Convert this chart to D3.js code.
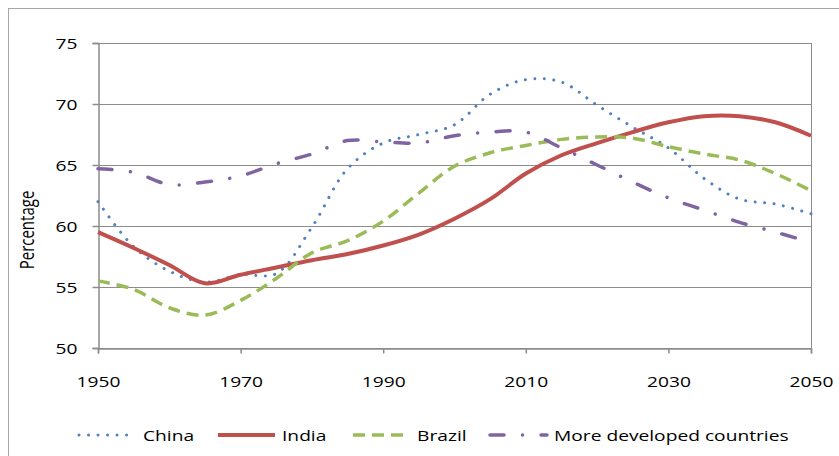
<!DOCTYPE html>
<html>
<head>
<meta charset="utf-8">
<script src="https://cdn.jsdelivr.net/npm/d3@7"></script>
<style>
  html, body { margin: 0; padding: 0; background: #fff; }
  svg text { font-family: "Open Sans", sans-serif; fill: #000; }
</style>
</head>
<body>
<div id="chart"></div>
<script>
// data (5-year steps)
var years = [1950, 1955, 1960, 1965, 1970, 1975, 1980, 1985, 1990, 1995, 2000,
             2005, 2010, 2015, 2020, 2025, 2030, 2035, 2040, 2045, 2050];
var china = [62.0, 58.3, 56.3, 55.4, 56.0, 56.1, 59.9, 64.7, 66.8, 67.5, 68.3,
             70.8, 72.0, 71.8, 69.9, 68.1, 66.4, 63.9, 62.2, 61.8, 61.0];
var india = [59.5, 58.2, 56.8, 55.3, 56.0, 56.6, 57.2, 57.7, 58.4, 59.3, 60.6,
             62.2, 64.3, 65.8, 66.8, 67.7, 68.5, 69.0, 69.0, 68.5, 67.4];
var brazil = [55.5, 54.8, 53.3, 52.7, 53.9, 55.7, 57.8, 58.8, 60.4, 62.7, 64.9,
              66.0, 66.6, 67.1, 67.3, 67.2, 66.5, 65.9, 65.4, 64.3, 62.9];
var mdcYears = [1950, 1955, 1960, 1965, 1970, 1975, 1980, 1985, 1990, 1995, 2000,
                2005, 2010, 2015, 2020, 2025, 2030, 2035, 2040, 2045, 2048];
var mdc = [64.7, 64.4, 63.4, 63.6, 64.1, 65.1, 65.9, 67.0, 66.9, 66.8, 67.4,
           67.7, 67.7, 66.4, 65.0, 63.6, 62.3, 61.3, 60.3, 59.5, 59.0];
var xTicks = [1950, 1970, 1990, 2010, 2030, 2050];
var yTicks = [50, 55, 60, 65, 70, 75];

var W = 839, H = 456;
var margin = {top: 43, right: 28, bottom: 108, left: 98};
var sx = 1.28; // the picture is stretched sideways

var svg = d3.select("#chart").append("svg")
    .attr("width", W).attr("height", H);

// outer chart border
svg.append("rect")
    .attr("x", 8.5).attr("y", 8.5)
    .attr("width", W).attr("height", H)
    .attr("fill", "none").attr("stroke", "#a6a6a6");

var x = d3.scaleLinear().domain([1950, 2050]).range([margin.left, W - margin.right]);
var y = d3.scaleLinear().domain([50, 75]).range([H - margin.bottom, margin.top]);

// gridlines
svg.append("g").selectAll("line").data(yTicks).join("line")
    .attr("x1", x(1950)).attr("x2", x(2050))
    .attr("y1", d => Math.round(y(d)) + 0.5).attr("y2", d => Math.round(y(d)) + 0.5)
    .attr("stroke", "#8c8c8c");
svg.append("line")
    .attr("x1", Math.round(x(2050)) + 0.5).attr("x2", Math.round(x(2050)) + 0.5)
    .attr("y1", y(75)).attr("y2", y(50))
    .attr("stroke", "#8c8c8c");

// y axis
var yAxis = svg.append("g")
    .attr("transform", "translate(" + (Math.round(x(1950)) + 0.5) + ",0)")
    .call(d3.axisLeft(y).tickValues(yTicks).tickSize(6).tickPadding(0).tickFormat(d3.format("d")));
yAxis.select(".domain").attr("stroke", "#8c8c8c").attr("stroke-width", 1.5);
yAxis.selectAll(".tick line").attr("stroke", "#8c8c8c").attr("stroke-width", 1.5);
yAxis.selectAll(".tick text")
    .attr("x", null).attr("dy", null)
    .attr("font-size", 15)
    .attr("text-anchor", "end")
    .attr("transform", "translate(-21,5.5) scale(" + sx + ",1)");

// x axis
var xAxis = svg.append("g")
    .attr("transform", "translate(0," + (Math.round(y(50)) + 0.5) + ")")
    .call(d3.axisBottom(x).tickValues(xTicks).tickSize(5).tickFormat(d3.format("d")));
xAxis.select(".domain").attr("stroke", "#8c8c8c").attr("stroke-width", 1.5);
xAxis.selectAll(".tick line").attr("stroke", "#8c8c8c").attr("stroke-width", 1.5);
xAxis.selectAll(".tick text")
    .attr("y", null).attr("dy", null)
    .attr("font-size", 15)
    .attr("text-anchor", "middle")
    .attr("transform", "translate(0,38.5) scale(" + sx + ",1)");

// y axis title
svg.append("text")
    .attr("transform", "translate(34,230) rotate(-90) scale(1," + sx + ")")
    .attr("text-anchor", "middle")
    .attr("font-size", 15)
    .text("Percentage");

var series = [
    {name: "China", xs: years, vs: china, color: "#4F81BD", width: 3, dash: "0.01 9.5", cap: "round"},
    {name: "India", xs: years, vs: india, color: "#C0504D", width: 4, dash: null, cap: "butt"},
    {name: "Brazil", xs: years, vs: brazil, color: "#9BBB59", width: 3.5, dash: "12 7", cap: "butt"},
    {name: "More developed countries", xs: mdcYears, vs: mdc, color: "#8064A2", width: 3.5, dash: "14 18.5 0.01 18.5", cap: "round"}
];

var line = d3.line()
    .x(d => x(d[0]))
    .y(d => y(d[1]))
    .curve(d3.curveCatmullRom.alpha(0.5));

series.forEach(function(s) {
    svg.append("path")
        .attr("d", line(d3.zip(s.xs, s.vs)))
        .attr("fill", "none")
        .attr("stroke", s.color)
        .attr("stroke-width", s.width)
        .attr("stroke-linecap", s.cap)
        .attr("stroke-linejoin", "round")
        .attr("stroke-dasharray", s.dash);
});

// legend
var legendX = [79, 218, 353, 490];
var legendY = 435;
var legend = svg.append("g");
series.forEach(function(s, i) {
    legend.append("line")
        .attr("x1", legendX[i]).attr("x2", legendX[i] + 57)
        .attr("y1", legendY).attr("y2", legendY)
        .attr("stroke", s.color)
        .attr("stroke-width", s.width)
        .attr("stroke-linecap", s.cap)
        .attr("stroke-dasharray", s.dash);
    legend.append("text")
        .attr("transform", "translate(" + (legendX[i] + 64) + "," + (legendY + 5.5) + ") scale(" + sx + ",1)")
        .attr("font-size", 15)
        .text(s.name);
});
</script>
</body>
</html>
